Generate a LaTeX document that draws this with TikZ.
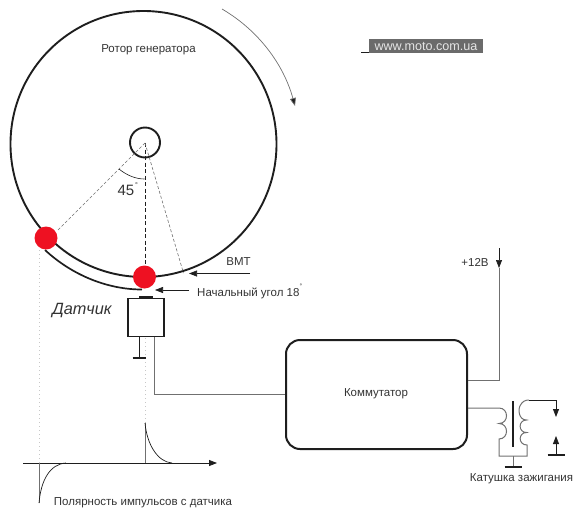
\documentclass[tikz,border=0pt]{standalone}
\usepackage{fontspec}
\setmainfont{Liberation Sans}
\usetikzlibrary{arrows.meta,calc}
\definecolor{inkd}{HTML}{1E1E1E}
\definecolor{wire}{HTML}{707070}
\definecolor{lab}{HTML}{333333}
\definecolor{dotred}{HTML}{EE1122}
\tikzset{
 heavy/.style={draw=inkd,line width=1.9pt},
 thinw/.style={draw=wire,line width=1pt},
 thinb/.style={draw=inkd,line width=.9pt},
 dashthin/.style={draw=wire,line width=.6pt,dash pattern=on 3pt off 2pt},
 dashmid/.style={draw=inkd,line width=.9pt,dash pattern=on 4pt off 2.5pt},
 dotw/.style={draw=black!22,line width=1pt,dash pattern=on 1pt off 3pt},
 tip/.style={-{Triangle[length=8pt,width=6pt]}},
 lbl/.style={font=\fontsize{11.5}{13}\selectfont,text=lab,inner sep=0pt},
 reddot/.style={circle,fill=dotred,minimum size=23pt,inner sep=0pt},
 gbar/.style={draw=inkd,line width=1.7pt}
}
\begin{document}
\begin{tikzpicture}[x=1pt,y=-1pt]
\useasboundingbox (0,0) rectangle (579,512);
% rotor
\node[circle,heavy,minimum size=266pt,inner sep=0pt] (rotor) at (143.5,144) {};
\node[circle,heavy,fill=white,minimum size=30pt,inner sep=0pt] (hub) at (145,142.5) {};
\coordinate (c) at (145,143);
\coordinate (d1) at (58,230);
\coordinate (d2) at (145,266);
\coordinate (d3) at (183.5,273);
\draw[dashthin] (c) -- (d1);
\draw[dashmid] (c) -- (d2);
\draw[dashthin] (c) -- (d3);
\coordinate (a1) at (119,169);
\coordinate (a2) at (144.5,179);
\draw[draw=inkd,line width=.6pt] (a1) .. controls (127,175.5) and (136,179) .. (a2);
\node[font=\fontsize{15}{16}\selectfont,text=lab,inner sep=0pt] (ang) at (126,190.5) {45};
\node[font=\fontsize{7}{8}\selectfont,text=lab,inner sep=0pt] (deg) at (136.5,185) {°};
% outer track
\coordinate (o1) at (45,250);
\coordinate (o2) at (142,289.5);
\draw[draw=inkd,line width=1.7pt] (o1) .. controls (71.7,274.8) and (107,289.5) .. (o2);
% pulse guides
\coordinate (g1) at (39,250);
\coordinate (g1b) at (39,463);
\coordinate (g2) at (145,338);
\coordinate (g2b) at (145,423);
\draw[dotw] (g1) -- (g1b);
\draw[dotw] (g2) -- (g2b);
\node[reddot] (r1) at (46,238) {};
\node[reddot] (r2) at (144.5,277) {};
% rotation arrow
\coordinate (ra) at (222,9);
\coordinate (rb) at (295,106);
\draw[draw=wire,line width=.7pt,-{Triangle[length=8pt,width=6pt,fill=inkd]}] (ra) .. controls (258,30) and (283.5,64) .. (rb);
% labels
\node[lbl] (t1) at (148.5,50) {Ротор генератора};
\node[fill=black!58,text=white!90!black,font=\fontsize{12.6}{14}\selectfont,inner sep=0pt,minimum width=114pt,minimum height=14pt] (www) at (426,46) {www.moto.com.ua};
\coordinate (u1) at (361,52);
\draw[draw=inkd,line width=.6pt] (u1) -- (www.south west |- u1);
% BMT
\node[lbl] (bmt) at (238.5,262) {ВМТ};
\coordinate (b1) at (250,273.5);
\coordinate (b2) at (189,273.5);
\draw[draw=inkd,line width=.7pt,tip] (b1) -- (b2);
\node[lbl,anchor=west] (nu) at (197,293) {Начальный угол 18};
\node[font=\fontsize{6.5}{8}\selectfont,text=lab,inner sep=0pt] (nud) at (301,286.5) {°};
\coordinate (s1) at (189,290);
\coordinate (s2) at (155,290);
\draw[draw=inkd,line width=.7pt,tip] (s1) -- (s2);
% sensor
\node[draw=inkd,line width=1.3pt,minimum width=36pt,minimum height=38pt,inner sep=0pt] (sens) at (146,317.5) {};
\node[fill=inkd,minimum width=14pt,minimum height=2.5pt,inner sep=0pt] (cap) at (146,297) {};
\node[font=\fontsize{16.3}{18}\selectfont\itshape,text=lab,inner sep=0pt] (dat) at (82,311) {Датчик};
\coordinate (gr1) at (139,358);
\draw[thinb] (sens.south -| gr1) -- (gr1);
\draw[gbar] ($(gr1)+(-6.5,0)$) -- ($(gr1)+(6.5,0)$);
% commutator
\node[draw=inkd,line width=2pt,rounded corners=14pt,minimum width=181pt,minimum height=109pt,inner sep=0pt] (comm) at (376.5,394.5) {};
\node[lbl] (t2) at (376,394) {Коммутатор};
\coordinate (w1) at (154,394);
\draw[thinw] (sens.south -| w1) -- (w1) -- (w1 -| comm.west);
% +12
\node[lbl] (p12) at (475,262) {+12В};
\coordinate (v1) at (499,248);
\coordinate (v2) at (499,268);
\coordinate (v3) at (499,380);
\draw[draw=inkd,line width=.7pt,tip] (v1) -- (v2);
\draw[thinw] (v2) -- (v3) -- (v3 -| comm.east);
% coil
\coordinate (k1) at (499,408);
\coordinate (k2) at (499,439);
\coordinate (k3) at (499,456);
\coordinate (k4) at (527,456);
\coordinate (k5) at (527,445);
\coordinate (k6) at (556,400);
\draw[thinw] (k1 -| comm.east) -- (k1) .. controls (509,408) and (509,423.5) .. (499,423.5) .. controls (509,423.5) and (509,439) .. (k2) -- (k3) -- (k4) -- (k5)
  .. controls (518,445) and (518,432.5) .. (526.5,432.5) .. controls (518,432.5) and (518,420) .. (526.5,420) .. controls (518,420) and (518,408) .. (520.5,405) .. controls (522.5,401.5) and (525,400) .. (529,400);
\draw[draw=inkd,line width=.8pt] (529,400) -- (k6);
\coordinate (k7) at (556,417);
\draw[draw=inkd,line width=.8pt,tip] (k6) -- (k7);
\coordinate (core1) at (513,401);
\coordinate (core2) at (513,447);
\draw[draw=inkd,line width=2pt] (core1) -- (core2);
\coordinate (gk) at (513,467);
\draw[thinw] (gk |- k3) -- (gk);
\draw[gbar] ($(gk)+(-8.5,0)$) -- ($(gk)+(8.5,0)$);
\coordinate (sp1) at (556,455);
\coordinate (sp2) at (556,436);
\draw[draw=inkd,line width=.8pt,tip] (sp1) -- (sp2);
\draw[gbar] ($(sp1)+(-8.5,0)$) -- ($(sp1)+(8.5,0)$);
\node[lbl] (t3) at (521.5,479) {Катушка зажигания};
% pulses
\coordinate (ax1) at (23,463);
\coordinate (ax2) at (217,463);
\draw[draw=inkd,line width=.8pt,tip] (ax1) -- (ax2);
\coordinate (pn) at (39,503);
\coordinate (pn0) at (39,463);
\coordinate (pne) at (66,463);
\draw[thinw] (pn0) -- (pn);
\draw[draw=inkd,line width=.7pt] (pn) .. controls (41,480) and (50,464) .. (pne);
\coordinate (pp) at (145,423);
\coordinate (pp0) at (145,463);
\coordinate (ppe) at (172,463);
\draw[thinw] (pp0) -- (pp);
\draw[draw=inkd,line width=.7pt] (pp) .. controls (147,445) and (158,462) .. (ppe);
\node[lbl] (t4) at (143,503) {Полярность импульсов с датчика};
\end{tikzpicture}
\end{document}
